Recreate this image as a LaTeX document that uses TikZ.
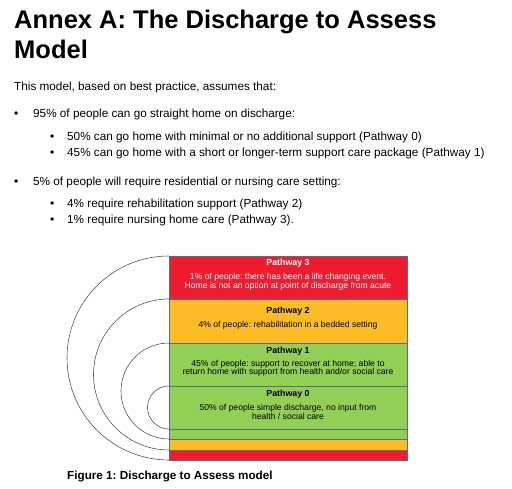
\documentclass[tikz,border=0pt]{standalone}
\usepackage{fontspec}
\setmainfont{Liberation Sans}
\frenchspacing
\usetikzlibrary{positioning}
\definecolor{pwred}{HTML}{EE1C2E}
\definecolor{pworange}{HTML}{FBBC26}
\definecolor{pwgreen}{HTML}{92CF55}
\definecolor{pwedge}{HTML}{5B6B8A}
\definecolor{arcgray}{HTML}{555555}
\begin{document}
\begin{tikzpicture}[x=1pt, y=-1pt,
  band/.style={draw=pwedge, line width=0.6pt, anchor=north west, inner sep=0pt, minimum width=238pt},
  body/.style={font=\fontsize{11.75}{14}\selectfont, anchor=base west, inner sep=0pt},
  dot/.style={font=\fontsize{12}{14}\selectfont, anchor=base west, inner sep=0pt},
  pwtitle/.style={font=\fontsize{8.8}{10}\selectfont\bfseries, anchor=base, inner sep=0pt},
  pwtext/.style={font=\fontsize{8.6}{9}\selectfont, align=center, anchor=base, inner sep=0pt},
  ring/.style={draw=arcgray, line width=0.6pt}]
  \useasboundingbox (0,0) rectangle (512,489);
  % Heading
  \node[font=\fontsize{25.5}{30}\selectfont\bfseries, anchor=base west, inner sep=0pt] (head1) at (14,29) {Annex A: The Discharge to Assess};
  \node[font=\fontsize{25.5}{30}\selectfont\bfseries, anchor=base west, inner sep=0pt] (head2) at (14,59) {Model};
  % Text and bullets
  \node[body] (intro) at (14,91) {This model, based on best practice, assumes that:};
  \node[dot] (b1) at (14,118) {•};
  \node[body] (home) at (33,118) {95\% of people can go straight home on discharge:};
  \node[dot] (b11) at (50,141) {•};
  \node[body] (home0) at (67,141) {50\% can go home with minimal or no additional support (Pathway 0)};
  \node[dot] (b12) at (50,157) {•};
  \node[body] (home1) at (67,157) {45\% can go home with a short or longer-term support care package (Pathway 1)};
  \node[dot] (b2) at (14,186) {•};
  \node[body] (care) at (33,186) {5\% of people will require residential or nursing care setting:};
  \node[dot] (b21) at (50,208) {•};
  \node[body] (care2) at (67,208) {4\% require rehabilitation support (Pathway 2)};
  \node[dot] (b22) at (50,224) {•};
  \node[body] (care3) at (67,224) {1\% require nursing home care (Pathway 3).};
  % Nested bands
  \node[band, fill=pwred, minimum height=204pt] (p3) at (169,256) {};
  \node[band, fill=pworange, minimum height=151pt] (p2) at (169,299) {};
  \node[band, fill=pwgreen, minimum height=96pt] (p1) at (169,343) {};
  \node[band, fill=pwgreen, minimum height=43pt] (p0) at (169,386) {};
  % Half rings
  \draw[ring] (p3.north west) arc[start angle=270, end angle=90, radius=102];
  \draw[ring] (p2.north west) arc[start angle=270, end angle=90, radius=75.5];
  \draw[ring] (p1.north west) arc[start angle=270, end angle=90, radius=48];
  \draw[ring] (p0.north west) arc[start angle=270, end angle=90, radius=21.5];
  % Band texts
  \node[pwtitle, text=white] (t3) at (288,266) {Pathway 3};
  \node[pwtext, text=white] (d3) at (288,289) {1\% of people: there has been a life changing event.\\Home is not an option at point of discharge from acute};
  \node[pwtitle] (t2) at (288,314) {Pathway 2};
  \node[pwtext] (d2) at (288,328) {4\% of people: rehabilitation in a bedded setting};
  \node[pwtitle] (t1) at (288,354) {Pathway 1};
  \node[pwtext] (d1) at (288,375) {45\% of people: support to recover at home; able to\\return home with support from health and/or social care};
  \node[pwtitle] (t0) at (288,397) {Pathway 0};
  \node[pwtext] (d0) at (288,419) {50\% of people simple discharge, no input from\\health / social care};
  % Caption
  \node[font=\fontsize{11.7}{14}\selectfont\bfseries, anchor=base west, inner sep=0pt] (cap) at (67,479) {Figure 1: Discharge to Assess model};
\end{tikzpicture}
\end{document}
